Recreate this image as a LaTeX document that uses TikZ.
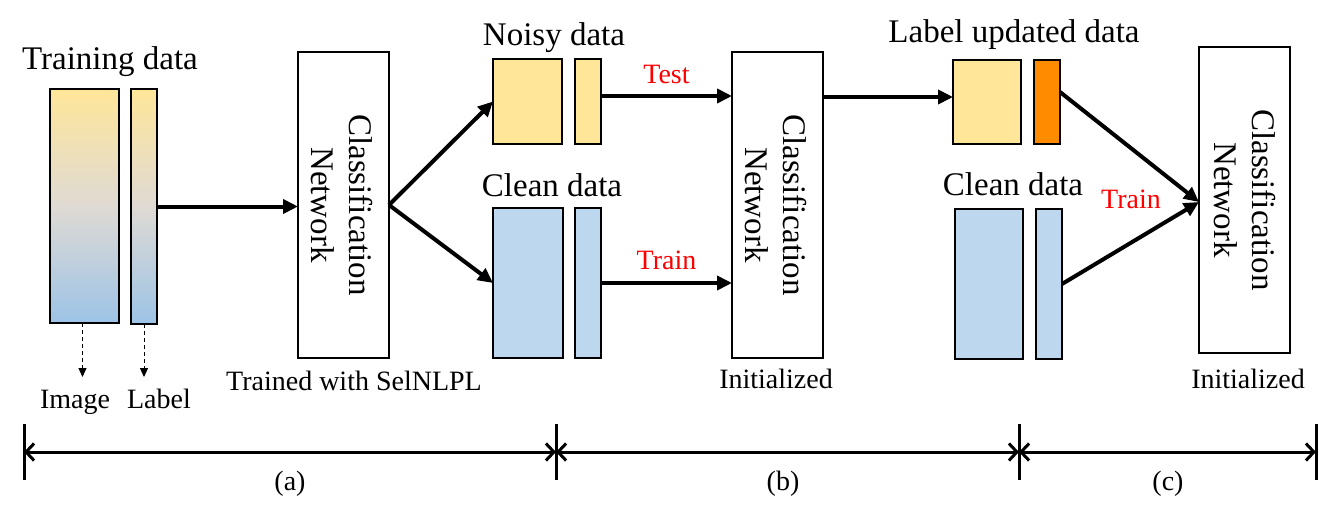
\documentclass[tikz,border=0pt]{standalone}
\usepackage{fontspec}
\setmainfont{Liberation Serif}
\usetikzlibrary{arrows.meta,calc}
\definecolor{yel}{HTML}{FFE699}
\definecolor{blu}{HTML}{BDD7EE}
\definecolor{gblu}{HTML}{9DC3E6}
\definecolor{gmid}{HTML}{DFDAD4}
\definecolor{org}{HTML}{FF8C00}
\begin{document}
\begin{tikzpicture}[x=1pt,y=-1pt,
  box/.style={draw=black,line width=2pt,inner sep=0pt,outer sep=0pt,anchor=north west},
  grad/.style={box,top color=yel,bottom color=gblu,middle color=gmid},
  yelbox/.style={box,fill=yel},
  blubox/.style={box,fill=blu},
  orgbox/.style={box,fill=org},
  netbox/.style={box,fill=white,minimum width=91pt,minimum height=306pt},
  big/.style={font=\fontsize{33}{38}\selectfont,inner sep=0pt},
  small/.style={font=\fontsize{28}{33}\selectfont,inner sep=0pt},
  redlab/.style={small,text=red,anchor=base},
  nettext/.style={big,rotate=-90,align=center},
  arr/.style={line width=4pt,-{Triangle[length=15pt,width=14pt]}},
  darr/.style={line width=1pt,dash pattern=on 4pt off 3pt,-{Triangle[length=9pt,width=8pt]}},
  tl/.style={line width=3pt,{Straight Barb[length=8pt,width=17pt]}-{Straight Barb[length=8pt,width=17pt]}},
  tick/.style={line width=3pt}
]
\useasboundingbox (0,0) rectangle (1333,519);

% ---------- (a) ----------
\node[big,anchor=base] (trd) at (110,70) {Training data};
\node[grad,minimum width=69pt,minimum height=234pt] (img1) at (50,89) {};
\node[grad,minimum width=26pt,minimum height=235pt] (lbl1) at (131,89) {};
\node[small,anchor=base] (imgt) at (75,408) {Image};
\node[small,anchor=base] (lblt) at (159,408) {Label};
\coordinate (imgend) at ($(img1.south)+(-2,54)$);
\coordinate (lblend) at ($(lbl1.south)+(0,53)$);
\draw[darr] (img1.south -| imgend) -- (imgend);
\draw[darr] (lbl1.south) -- (lblend);

\node[netbox] (cn1) at (298,52) {};
\node[nettext] (cn1t) at ($(cn1.center)+(-2,0)$) {Classification\\Network};
\node[small,anchor=base] (cn1s) at (354,390) {Trained with SelNLPL};
\draw[arr] (lbl1.east) -- (lbl1.east -| cn1.west);

% ---------- (b) ----------
\node[big,anchor=base] (noisyt) at (554,46) {Noisy data};
\node[yelbox,minimum width=69pt,minimum height=85pt] (nimg) at (493,59) {};
\node[yelbox,minimum width=26pt,minimum height=85pt] (nlbl) at (575,59) {};
\node[big,anchor=base] (cleant) at (552,196) {Clean data};
\node[blubox,minimum width=70pt,minimum height=150pt] (cimg) at (493,208) {};
\node[blubox,minimum width=26pt,minimum height=150pt] (clbl) at (575,208) {};
\draw[arr] (cn1.east) -- (nimg.west);
\draw[arr] (cn1.east) -- (cimg.west);

\node[netbox] (cn2) at (732,52) {};
\node[nettext] (cn2t) at ($(cn2.center)+(-2,0)$) {Classification\\Network};
\node[small,anchor=base] (cn2s) at (776,388) {Initialized};
\coordinate (ta) at ([yshift=5.5pt]nlbl.east);
\draw[arr] (ta) -- (ta -| cn2.west) node[redlab,pos=0.5,yshift=12pt] {Test};
\draw[arr] (clbl.east) -- (clbl.east -| cn2.west) node[redlab,pos=0.5,yshift=14pt] {Train};

% ---------- (c) ----------
\node[big,anchor=base] (lut) at (1014,43) {Label updated data};
\node[yelbox,minimum width=68pt,minimum height=84pt] (uimg) at (953,60) {};
\node[orgbox,minimum width=26pt,minimum height=84pt] (ulbl) at (1034,60) {};
\node[big,anchor=base] (clean2t) at (1013,195) {Clean data};
\node[blubox,minimum width=68pt,minimum height=150pt] (c2img) at (955,209) {};
\node[blubox,minimum width=26pt,minimum height=150pt] (c2lbl) at (1036,209) {};
\coordinate (tb) at ([yshift=5pt]uimg.west);
\draw[arr] (tb -| cn2.east) -- (tb);

\node[netbox] (cn3) at (1199,47) {};
\node[nettext] (cn3t) at (cn3.center) {Classification\\Network};
\node[small,anchor=base] (cn3s) at (1248,388) {Initialized};
\coordinate (cin) at ([yshift=-2pt]cn3.west);
\draw[arr] ([yshift=10pt]ulbl.east) -- (cin);
\draw[arr] (c2lbl.east) -- (cin);
\node[redlab] (trc) at (1131,208) {Train};

% ---------- timeline ----------
\coordinate (t0) at (24,452);
\coordinate (t1) at (556,452);
\coordinate (t2) at (1019,452);
\coordinate (t3) at (1316,452);
\foreach \t in {t0,t1,t2,t3} \draw[tick] ($(\t)+(0,-28)$) -- ($(\t)+(0,28)$);
\draw[tl] (t0) -- (t1);
\draw[tl] (t1) -- (t2);
\draw[tl] (t2) -- (t3);
\node[small,anchor=base] (la) at (290,490) {(a)};
\node[small,anchor=base] (lb) at (783,490) {(b)};
\node[small,anchor=base] (lc) at (1168,490) {(c)};
\end{tikzpicture}
\end{document}
